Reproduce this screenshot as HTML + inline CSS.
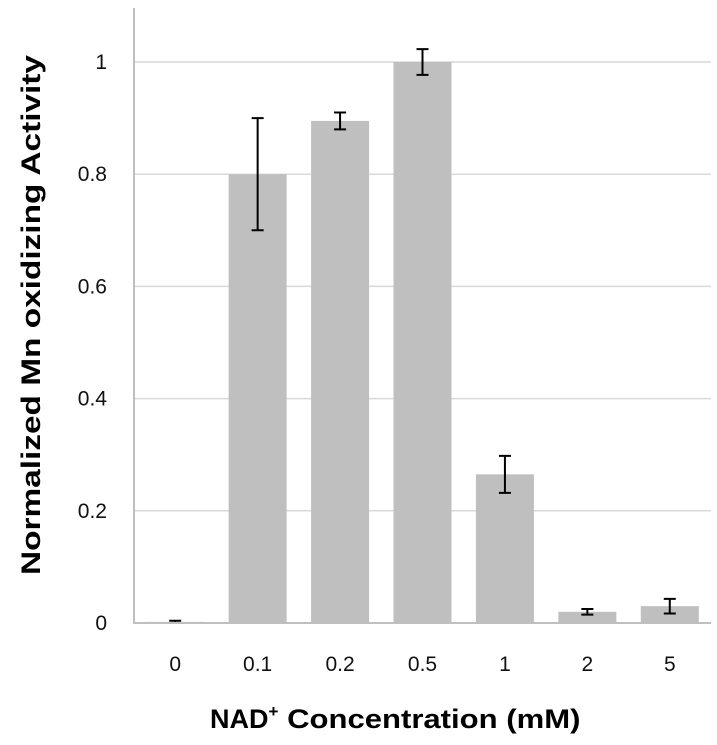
<!DOCTYPE html>
<html><head><meta charset="utf-8"><style>
body{margin:0;background:#fff;}
text{font-family:"Liberation Sans",sans-serif;}
</style></head><body>
<svg id="chart" width="717" height="740" xmlns="http://www.w3.org/2000/svg"></svg>
<script>
const categories=["0","0.1","0.2","0.5","1","2","5"];
const values=[0.002,0.80,0.895,1.0,0.265,0.02,0.03];
const errors=[0.002,0.10,0.015,0.023,0.033,0.005,0.013];
const yTicks=[0,0.2,0.4,0.6,0.8,1];
const yTickLabels=["0","0.2","0.4","0.6","0.8","1"];
const NS="http://www.w3.org/2000/svg";
const svg=document.getElementById('chart');
const x0=134,x1=711,yBase=623,yTop=8;
const yScale=v=>yBase-v*561;
const band=(x1-x0)/categories.length;
const xC=i=>x0+band*(i+0.5);
const bw=58;
function mk(t,a){const e=document.createElementNS(NS,t);for(const k in a)e.setAttribute(k,a[k]);svg.appendChild(e);return e;}
yTicks.forEach((v,i)=>{
 if(v>0){const g=mk('line',{x1:x0,x2:x1,y1:yScale(v),y2:yScale(v),stroke:'#d9d9d9','stroke-width':1.5});
 
 }
 const t=mk('text',{x:107,y:yScale(v)+7,'text-anchor':'end','font-size':21,fill:'#111'});
 t.textContent=yTickLabels[i];
 
 
});
values.forEach((v,i)=>{
 const cx=xC(i);
 const r=mk('rect',{x:cx-bw/2,y:yScale(v),width:bw,height:yBase-yScale(v),fill:'#bfbfbf'});
 
 
 const hi=yScale(v+errors[i]),lo=yScale(Math.max(0,v-errors[i]));
 const eb=mk('path',{d:`M${cx},${hi}V${lo}M${cx-6},${hi}H${cx+6}M${cx-6},${lo}H${cx+6}`,stroke:'#000','stroke-width':2,fill:'none'});
 
 
 const t=mk('text',{x:cx,y:671,'text-anchor':'middle','font-size':21,fill:'#111'});
 t.textContent=categories[i];
 
 
});
const ax=mk('path',{d:`M${x0},${yTop}V${yBase}H${x1}`,stroke:'#bfbfbf','stroke-width':2,fill:'none'});


const xt=mk('text',{x:210,y:728,'font-size':27,'font-weight':'bold',fill:'#000'});
xt.innerHTML='NAD<tspan font-size="17" dy="-11">+</tspan><tspan dy="11" textLength="302" lengthAdjust="spacingAndGlyphs"> Concentration (mM)</tspan>';


const yt=mk('text',{x:0,y:0,'text-anchor':'middle','font-size':27,'font-weight':'bold',fill:'#000',transform:'translate(40,315) rotate(-90)',textLength:520,lengthAdjust:'spacingAndGlyphs'});
yt.textContent='Normalized Mn oxidizing Activity';


</script>
</body></html>
